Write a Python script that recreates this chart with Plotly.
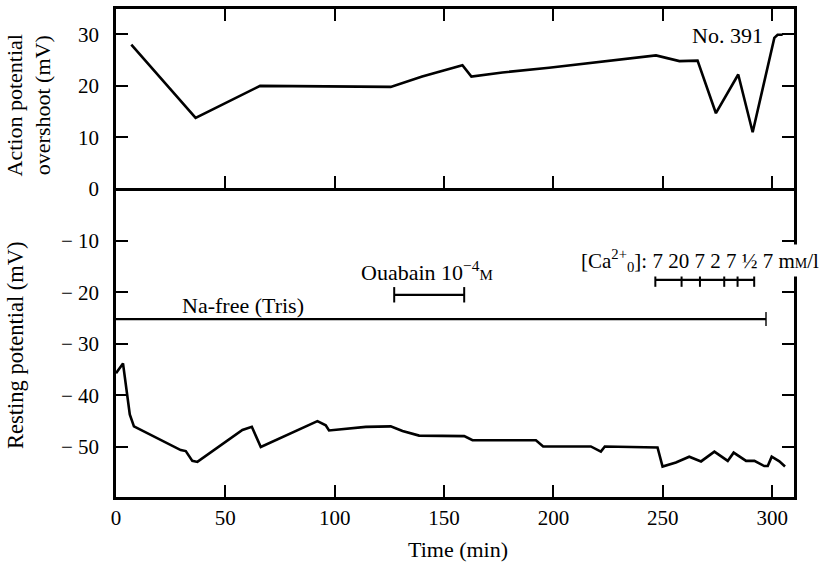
import plotly.graph_objects as go

# ---- data ----
over_t = [7.0, 36.4, 65.9, 125.6, 140.0, 157.0, 158.4, 162.5, 176.7, 198.0, 246.9,
          257.6, 265.9, 274.3, 284.5, 291.1, 296.4, 301.0, 302.5, 304.8]
over_v = [28.0, 13.8, 20.0, 19.8, 21.8, 23.8, 24.0, 21.8, 22.6, 23.5, 25.9,
          24.8, 24.9, 14.7, 22.2, 11.0, 20.6, 29.3, 29.9, 29.9]

rest_t = [0.0, 3.2, 6.3, 8.2, 29.6, 31.9, 34.9, 37.2, 57.8, 62.1, 66.2, 92.1, 95.9,
          97.4, 114.2, 125.6, 131.0, 138.6, 159.2, 163.0, 192.0, 195.3, 217.1, 221.7,
          223.5, 247.6, 249.9, 256.0, 262.1, 267.5, 273.6, 279.7, 282.4, 288.1, 291.9,
          296.4, 298.0, 299.8, 303.3, 305.9]
rest_v = [-35.7, -33.8, -43.7, -46.0, -50.6, -50.8, -52.7, -52.9, -46.7, -46.1, -50.0,
          -45.0, -45.8, -46.8, -46.1, -46.0, -46.9, -47.8, -47.9, -48.7, -48.7, -49.9,
          -49.9, -50.9, -49.9, -50.1, -53.8, -53.0, -51.9, -52.8, -50.9, -52.7, -51.1,
          -52.7, -52.7, -53.7, -53.7, -51.9, -52.8, -53.8]

nafree_t = [0.0, 297.2]
nafree_v = -25.2
ouabain_t = [127.2, 159.2]
ouabain_v = -20.5
ca_t = [246.6, 258.6, 267.0, 278.1, 284.2, 291.8]
ca_v = -17.6

x_ticks = [0, 50, 100, 150, 200, 250, 300]
y_ticks = [-50, -40, -30, -20, -10, 0, 10, 20, 30]
y_ticktext = ["\u2212 50", "\u2212 40", "\u2212 30", "\u2212 20", "\u2212 10", "0", "10", "20", "30"]

X_RANGE = [0, 310]
Y_RANGE = [-59.7, 34.9]
FONT = "Liberation Serif, Times New Roman, serif"
K = "black"
PL, PW, PT, PH = 116, 678, 6, 491   # plot-area box in pixels


def px_to_paper_x(px):
    return (px - PL) / PW


def px_to_paper_y(py):
    return (PT + PH - py) / PH


fig = go.Figure()
fig.add_trace(go.Scatter(x=over_t, y=over_v, mode="lines",
                         line=dict(color=K, width=2.6), hoverinfo="skip"))
fig.add_trace(go.Scatter(x=rest_t, y=rest_v, mode="lines",
                         line=dict(color=K, width=2.6), hoverinfo="skip"))
# Na-free bar
fig.add_trace(go.Scatter(x=nafree_t, y=[nafree_v] * len(nafree_t), mode="lines+markers",
                         line=dict(color=K, width=2.2),
                         marker=dict(symbol="line-ns-open", size=[1, 10],
                                     line=dict(color=K, width=2)),
                         hoverinfo="skip"))
# Ouabain bar
fig.add_trace(go.Scatter(x=ouabain_t, y=[ouabain_v] * len(ouabain_t), mode="lines+markers",
                         line=dict(color=K, width=2.2),
                         marker=dict(symbol="line-ns-open", size=11,
                                     line=dict(color=K, width=2)),
                         hoverinfo="skip"))
# Ca bar
fig.add_trace(go.Scatter(x=ca_t, y=[ca_v] * len(ca_t), mode="lines+markers",
                         line=dict(color=K, width=2.2),
                         marker=dict(symbol="line-ns-open", size=10,
                                     line=dict(color=K, width=2)),
                         hoverinfo="skip"))

# divider axis at y = 0 with ticks pointing up into the top panel
y0_pos = (0 - Y_RANGE[0]) / (Y_RANGE[1] - Y_RANGE[0])

fig.update_layout(
    width=821, height=567,
    margin=dict(l=PL, r=821 - PL - PW, t=PT, b=567 - PT - PH),
    paper_bgcolor="white", plot_bgcolor="white",
    showlegend=False,
    font=dict(family=FONT, size=22, color=K),
    xaxis=dict(range=X_RANGE, tickvals=x_ticks, ticks="inside", ticklen=12,
               tickwidth=2.2, tickcolor=K, showline=True, linecolor=K, linewidth=2.6,
               mirror="ticks", showgrid=False, zeroline=False,
               tickfont=dict(family=FONT, size=21, color=K), ticklabelstandoff=0),
    xaxis2=dict(range=X_RANGE, overlaying="x", anchor="free", position=y0_pos,
                side="top", tickvals=x_ticks[1:], ticks="outside", ticklen=12,
                tickwidth=2.2, tickcolor=K, showline=True, linecolor=K, linewidth=2.6,
                showticklabels=False, showgrid=False, zeroline=False),
    yaxis=dict(range=Y_RANGE, tickvals=y_ticks, ticktext=y_ticktext, ticks="inside",
               ticklen=12, tickwidth=2.2, tickcolor=K, showline=True, linecolor=K,
               linewidth=2.6, mirror="ticks", showgrid=False, zeroline=False,
               tickfont=dict(family=FONT, size=21, color=K), ticklabelstandoff=10),
)
# dummy trace to activate xaxis2
fig.add_trace(go.Scatter(x=[None], y=[None], xaxis="x2", showlegend=False, hoverinfo="skip"))

ann = [
    dict(text="Action potential<br>overshoot (mV)", xref="paper", yref="paper",
         x=px_to_paper_x(29), y=px_to_paper_y(103), textangle=-90, showarrow=False,
         xanchor="center", yanchor="middle", font=dict(size=22)),
    dict(text="Resting potential (mV)", xref="paper", yref="paper",
         x=px_to_paper_x(16), y=px_to_paper_y(345), textangle=-90, showarrow=False,
         xanchor="center", yanchor="middle", font=dict(size=22.5)),
    dict(text="Time (min)", xref="paper", yref="paper",
         x=px_to_paper_x(458), y=px_to_paper_y(550),
         showarrow=False, xanchor="center", yanchor="middle", font=dict(size=22)),
    dict(text="No. 391", xref="paper", yref="paper",
         x=px_to_paper_x(727), y=px_to_paper_y(33), showarrow=False,
         xanchor="center", yanchor="middle", font=dict(size=22)),
    dict(text="Na-free (Tris)", xref="paper", yref="paper",
         x=px_to_paper_x(243), y=px_to_paper_y(304), showarrow=False,
         xanchor="center", yanchor="middle", font=dict(size=22)),
    dict(text="Ouabain 10<sup>\u22124</sup><span style='font-size:15px'>M</span>",
         xref="paper", yref="paper",
         x=px_to_paper_x(359), y=px_to_paper_y(270), showarrow=False,
         xanchor="left", yanchor="middle", font=dict(size=22)),
    dict(text="[Ca<sup>2+</sup><sub>0</sub>]: 7 20 7 2 7 \u00bd 7 m<span style='font-size:14px'>M</span>/l",
         xref="paper", yref="paper",
         x=px_to_paper_x(821), y=px_to_paper_y(259), showarrow=False,
         xanchor="right", yanchor="middle", font=dict(size=21), bgcolor="white"),
]
fig.update_layout(annotations=ann)

fig.write_html("out.html", config={"displayModeBar": False})
